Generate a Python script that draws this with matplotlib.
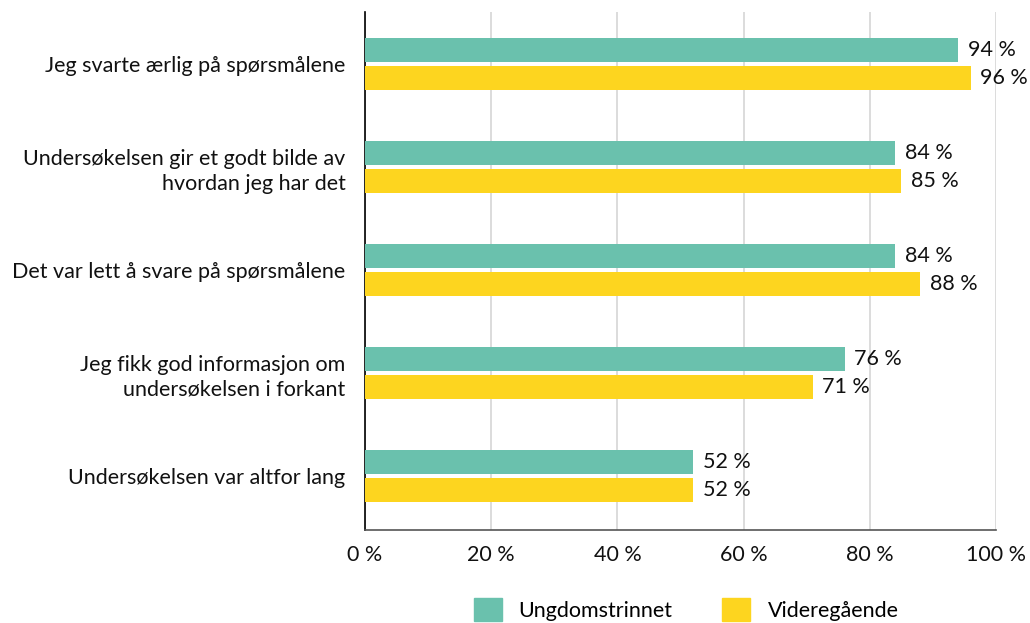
import matplotlib.pyplot as plt
from matplotlib.patches import Patch
import numpy as np

plt.rcParams['font.family'] = ['Lato', 'DejaVu Sans']

categories = [
    'Jeg svarte ærlig på spørsmålene',
    'Undersøkelsen gir et godt bilde av\nhvordan jeg har det',
    'Det var lett å svare på spørsmålene',
    'Jeg fikk god informasjon om\nundersøkelsen i forkant',
    'Undersøkelsen var altfor lang',
]
ungdom = [94, 84, 84, 76, 52]
vgs = [96, 85, 88, 71, 52]
series_names = ['Ungdomstrinnet', 'Videregående']
teal = '#6AC1AD'
yellow = '#FDD51F'
fs = 15.5

fig = plt.figure(figsize=(10.3, 6.23), dpi=100)
ax = fig.add_axes([0.3544, 0.149, 0.6126, 0.832])

y = np.arange(len(categories))
h = 0.233
off = 0.136
ax.barh(y - off, ungdom, height=h, color=teal, zorder=3)
ax.barh(y + off, vgs, height=h, color=yellow, zorder=3)

for yi, v in zip(y - off, ungdom):
    ax.text(v + 1.5, yi, f'{v} %', va='center', ha='left', fontsize=fs, color='#111111')
for yi, v in zip(y + off, vgs):
    ax.text(v + 1.5, yi, f'{v} %', va='center', ha='left', fontsize=fs, color='#111111')

ax.set_xlim(0, 100)
ax.set_ylim(4.524, -0.505)
ax.set_xticks(range(0, 101, 20))
ax.set_xticklabels([f'{t} %' for t in range(0, 101, 20)], fontsize=fs)
ax.set_yticks(y)
ax.set_yticklabels(categories, fontsize=fs, linespacing=1.3)
ax.tick_params(axis='both', length=0, pad=14, colors='#111111')
ax.tick_params(axis='x', pad=11)
ax.grid(axis='x', color='#d9d9d9', linewidth=1.3, zorder=0)
for s in ['top', 'right']:
    ax.spines[s].set_visible(False)
ax.spines['left'].set_color('black')
ax.spines['left'].set_linewidth(1.2)
ax.spines['bottom'].set_color('#555555')
ax.spines['bottom'].set_linewidth(1.2)

handles = [Patch(color=teal), Patch(color=yellow)]
fig.legend(handles, series_names, loc='center', bbox_to_anchor=(0.666, 0.022),
           ncol=2, frameon=False, fontsize=fs, handlelength=1.3, handleheight=1.3,
           handletextpad=0.8, columnspacing=2.3)

fig.savefig('out.png', dpi=100)
